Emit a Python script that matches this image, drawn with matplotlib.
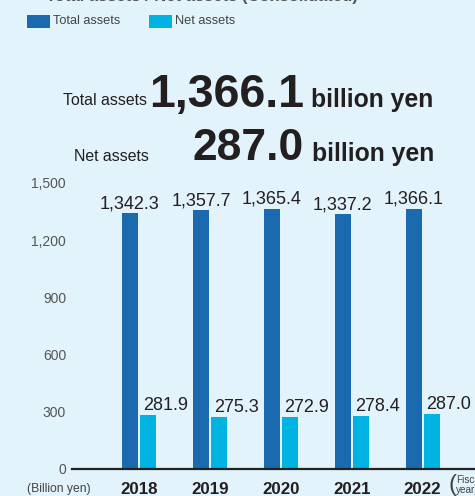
import matplotlib
matplotlib.use("Agg")
import matplotlib.pyplot as plt
from matplotlib.patches import Rectangle
from matplotlib.transforms import Affine2D
import numpy as np

plt.rcParams['font.family'] = ['Liberation Sans', 'DejaVu Sans']

# Data (billion yen)
years = ["2018", "2019", "2020", "2021", "2022"]
total_assets = [1342.3, 1357.7, 1365.4, 1337.2, 1366.1]
net_assets = [281.9, 275.3, 272.9, 278.4, 287.0]
y_ticks = [0, 300, 600, 900, 1200, 1500]
y_tick_labels = ["0", "300", "600", "900", "1,200", "1,500"]

BG = "#e2f3fb"
C_TOTAL = "#1b6aaf"
C_NET = "#00b3e3"
TXT = "#231f20"
GRAY = "#555555"

W, H = 475, 496
fig = plt.figure(figsize=(W / 100, H / 100), dpi=100, facecolor=BG)

# pixel transform (origin top-left)
px = Affine2D().scale(1 / W, -1 / H).translate(0, 1) + fig.transFigure

ax = fig.add_axes([72 / W, (H - 469) / H, (W - 72) / W, 286 / H])
ax.set_facecolor(BG)

x = np.arange(len(years))
bw = 0.226
off = 0.127
ax.bar(x - off, total_assets, bw, color=C_TOTAL, zorder=2)
ax.bar(x + off, net_assets, bw, color=C_NET, zorder=2)

ax.set_xlim(-0.945, 4.739)
ax.set_ylim(0, 1500)

for xi, v in zip(x, total_assets):
    ax.annotate(f"{v:,.1f}", (xi - off, v), xytext=(0, 3.6), textcoords="offset points",
                ha="center", va="baseline", fontsize=13, color=TXT)
for xi, v in zip(x, net_assets):
    ax.annotate(f"{v:,.1f}", (xi + off - bw / 2, v), xytext=(2, 3.6), textcoords="offset points",
                ha="left", va="baseline", fontsize=13, color=TXT, annotation_clip=False)

for s in ["top", "right", "left"]:
    ax.spines[s].set_visible(False)
ax.spines["bottom"].set_linewidth(1.6)
ax.spines["bottom"].set_color("#222222")

ax.set_yticks(y_ticks)
ax.set_yticklabels(y_tick_labels, fontsize=10, color=GRAY)
ax.set_xticks(x)
ax.set_xticklabels(years, fontsize=12.2, fontweight="bold", color=TXT)
ax.tick_params(axis="y", length=0, pad=4.3)
ax.tick_params(axis="x", length=0, pad=9.5)

# Title line (runs off the top edge)
fig.text(358, 1.0, "Total assets / Net assets (Consolidated)", transform=px,
         ha="right", va="baseline", fontsize=12, fontweight="bold", color="#555555")

# Legend
for lx, label, col in [(27, "Total assets", C_TOTAL), (149, "Net assets", C_NET)]:
    fig.patches.append(Rectangle((lx, 28), 23, -13, transform=px, facecolor=col,
                                 edgecolor="none"))
    fig.text(lx + 26, 21.5, label, transform=px, ha="left", va="center",
             fontsize=9.2, color="#444444")

# Headline figures
fig.text(146.7, 105, "Total assets", transform=px, ha="right", va="baseline",
         fontsize=11.4, color=TXT)
fig.text(149, 106.5, f"{total_assets[-1]:,.1f}", transform=px, ha="left", va="baseline",
         fontsize=33.5, fontweight="bold", color=TXT)
fig.text(311, 106.5, "billion yen", transform=px, ha="left", va="baseline",
         fontsize=17.8, fontweight="bold", color=TXT)

fig.text(149, 161, "Net assets", transform=px, ha="right", va="baseline",
         fontsize=11.4, color=TXT)
fig.text(193, 160.5, f"{net_assets[-1]:,.1f}", transform=px, ha="left", va="baseline",
         fontsize=32, fontweight="bold", color=TXT)
fig.text(311.7, 161, "billion yen", transform=px, ha="left", va="baseline",
         fontsize=17.8, fontweight="bold", color=TXT)

# Unit and period notes
fig.text(27, 489, "(Billion yen)", transform=px, ha="left", va="center",
         fontsize=8.7, color="#444444")
fig.text(448, 485, "(", transform=px, ha="left", va="center",
         fontsize=17, color="#444444", fontweight="light")
fig.text(456, 485, "Fiscal\nyear)", transform=px, ha="left", va="center",
         fontsize=7.2, color="#444444", linespacing=0.95)

fig.savefig("out.png", dpi=100, facecolor=BG)
